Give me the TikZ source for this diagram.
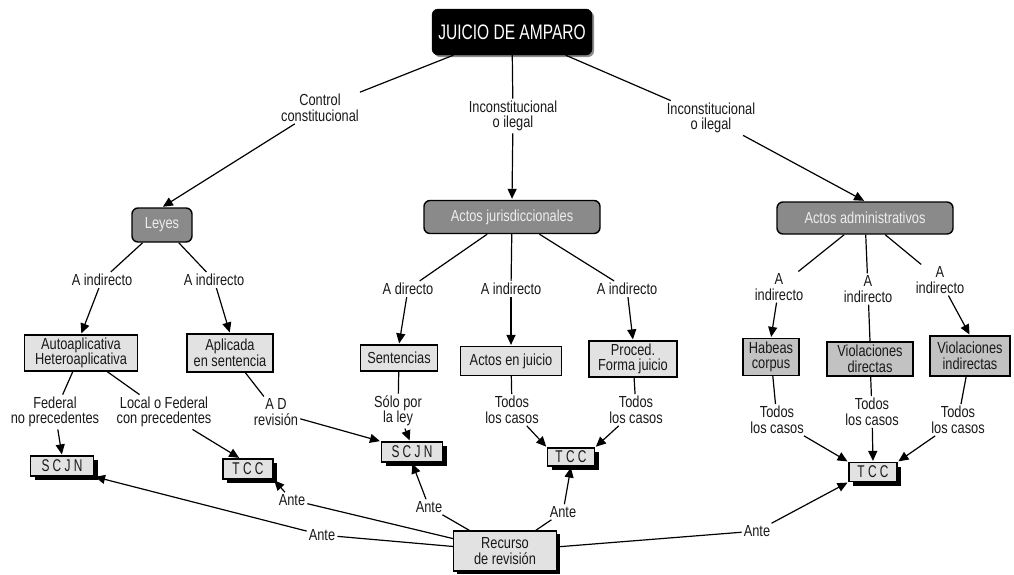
\documentclass[tikz,border=0pt]{standalone}
\usepackage{fontspec}
\setmainfont{Liberation Sans}[FakeStretch=0.8]
\newfontfamily\titlefont{Liberation Sans}[FakeStretch=0.74]
\newfontfamily\courtfont{Liberation Sans}[FakeStretch=0.7]
\usetikzlibrary{arrows.meta,shadows}

\definecolor{groupfill}{RGB}{138,138,138}
\definecolor{leaffill}{RGB}{226,226,226}
\definecolor{casefill}{RGB}{194,194,194}
\definecolor{ink}{RGB}{25,25,25}

\tikzset{
  txt/.style={font=\fontsize{16}{15.5}\selectfont, align=center, inner sep=2pt, text=ink},
  topbox/.style={fill=black, draw=black, rounded corners=6pt, text=white,
    font=\titlefont\fontsize{21}{22}\selectfont, minimum width=160pt, minimum height=46pt,
    inner sep=2pt,
    drop shadow={shadow xshift=2pt, shadow yshift=-2pt, fill=black!45, opacity=1}},
  groupbox/.style={txt, fill=groupfill, draw=black, line width=1.4pt, rounded corners=6pt,
    text=white!93!black, minimum height=33pt},
  leafbox/.style={txt, fill=leaffill, draw=black, line width=1.2pt},
  casebox/.style={txt, fill=casefill, draw=black, line width=1.2pt},
  courtbox/.style={fill=leaffill, draw=black, line width=1.2pt, inner sep=2pt, text=ink,
    font=\courtfont\fontsize{17}{17}\selectfont, minimum height=20pt,
    drop shadow={shadow xshift=4pt, shadow yshift=-4pt, fill=black, opacity=1}},
  linklabel/.style={txt},
  conn/.style={draw=black, line width=1.2pt},
  arr/.style={conn, -{Triangle[length=10pt,width=9pt]}, shorten >=1pt},
}

\begin{document}
\begin{tikzpicture}[x=1pt,y=-1pt]
\useasboundingbox (0,0) rectangle (1014,574);

% main concept
\node[topbox] (juicio) at (512,32) {JUICIO DE AMPARO};

% first level linking phrases
\node[linklabel] (lcontrol) at (320,108) {Control\\constitucional};
\node[linklabel] (lin1) at (513,116) {Inconstitucional\\o ilegal};
\node[linklabel] (lin2) at (711,118) {Inconstitucional\\o ilegal};

% groups
\node[groupbox, minimum width=60pt, minimum height=34pt] (leyes) at (162,225) {Leyes};
\node[groupbox, minimum width=176pt] (juris) at (512,217) {Actos jurisdiccionales};
\node[groupbox, minimum width=176pt, minimum height=32pt] (admin) at (865,218) {Actos administrativos};

% second level linking phrases
\node[linklabel] (la1) at (102,280) {A indirecto};
\node[linklabel] (la2) at (214,280) {A indirecto};
\node[linklabel] (ld) at (408,289) {A directo};
\node[linklabel] (lb) at (511,289) {A indirecto};
\node[linklabel] (lc) at (627,289) {A indirecto};
\node[linklabel] (lr1) at (779,287) {A\\indirecto};
\node[linklabel] (lr2) at (868,289) {A\\indirecto};
\node[linklabel] (lr3) at (940,280) {A\\indirecto};

% leaf concepts
\node[leafbox, minimum width=113pt, minimum height=36pt] (auto) at (81,353) {Autoaplicativa\\Heteroaplicativa};
\node[leafbox, minimum width=86pt, minimum height=38pt] (aplic) at (230,353) {Aplicada\\en sentencia};
\node[leafbox, minimum width=77pt, minimum height=26pt] (sent) at (399,358) {Sentencias};
\node[leafbox, minimum width=101pt, minimum height=29pt] (enjuicio) at (511,361) {Actos en juicio};
\node[leafbox, minimum width=88pt, minimum height=36pt] (proced) at (633,359) {Proced.\\Forma juicio};
\node[casebox, minimum width=56pt, minimum height=37pt] (habeas) at (771,357) {Habeas\\corpus};
\node[casebox, minimum width=86pt, minimum height=34pt] (vdir) at (870,359) {Violaciones\\directas};
\node[casebox, minimum width=80pt, minimum height=40pt] (vind) at (970,356) {Violaciones\\indirectas};

% third level linking phrases
\node[linklabel] (lfed) at (55,412) {Federal\\no precedentes};
\node[linklabel] (lloc) at (164,412) {Local o Federal\\con precedentes};
\node[linklabel] (lad) at (276,412) {A D\\revisión};
\node[linklabel] (lsolo) at (398,411) {Sólo por\\la ley};
\node[linklabel] (ltod1) at (512,410) {Todos\\los casos};
\node[linklabel] (ltod2) at (636,410) {Todos\\los casos};
\node[linklabel] (ltod3) at (777,420) {Todos\\los casos};
\node[linklabel] (ltod4) at (872,412) {Todos\\los casos};
\node[linklabel] (ltod5) at (958,420) {Todos\\los casos};

% courts
\node[courtbox, minimum width=63pt] (scjn1) at (62,466) {S C J N};
\node[courtbox, minimum width=50pt] (tcc1) at (248,469) {T C C};
\node[courtbox, minimum width=61pt] (scjn2) at (412,452) {S C J N};
\node[courtbox, minimum width=47pt, minimum height=18pt] (tcc2) at (571,457) {T C C};
\node[courtbox, minimum width=48pt, minimum height=19pt] (tcc3) at (873,472) {T C C};

% review
\node[leafbox, minimum width=103pt, minimum height=40pt,
  drop shadow={shadow xshift=3pt, shadow yshift=-3pt, fill=black, opacity=1}] (recurso) at (505,551) {Recurso\\de revisión};
\node[linklabel] (ante1) at (292,500) {Ante};
\node[linklabel] (ante2) at (322,535) {Ante};
\node[linklabel] (ante3) at (429,507) {Ante};
\node[linklabel] (ante4) at (563,512) {Ante};
\node[linklabel] (ante5) at (757,531) {Ante};

% connectors: first level
\draw[conn] (juicio) -- (lcontrol);
\draw[arr] (lcontrol) -- (leyes.north);
\draw[conn] (juicio) -- (lin1);
\draw[arr] (lin1) -- (juris.north);
\draw[conn] (juicio) -- (lin2);
\draw[arr] (lin2) -- (admin.north);

% connectors: laws
\draw[conn] (leyes) -- (la1);
\draw[arr] (la1) -- (auto.north);
\draw[conn] (leyes) -- (la2);
\draw[arr] (la2) -- (aplic.north);
\draw[conn] (auto) -- (lfed);
\draw[arr] (lfed) -- (scjn1.north);
\draw[conn] (auto) -- (lloc);
\draw[arr] (lloc) -- ([xshift=-8pt]tcc1.north);
\draw[conn] (aplic) -- (lad);
\draw[arr] (lad) -- (scjn2.north west);

% connectors: jurisdictional acts
\draw[conn] (juris) -- (ld);
\draw[arr] (ld) -- (sent.north);
\draw[conn] (juris) -- (lb);
\draw[arr] (lb) -- (enjuicio.north);
\draw[conn] (juris) -- (lc);
\draw[arr] (lc) -- (proced.north);
\draw[conn] (sent) -- (lsolo);
\draw[arr] (lsolo) -- ([xshift=-2pt]scjn2.north);
\draw[conn] (enjuicio) -- (ltod1);
\draw[arr] (ltod1) -- (tcc2.north west);
\draw[conn] (proced) -- (ltod2);
\draw[arr] (ltod2) -- (tcc2.north east);

% connectors: administrative acts
\draw[conn] (admin) -- (lr1);
\draw[arr] (lr1) -- (habeas.north);
\draw[conn] (admin) -- (lr2);
\draw[conn] (lr2) -- (vdir.north);
\draw[conn] (admin) -- (lr3);
\draw[arr] (lr3) -- (vind.north);
\draw[conn] (habeas) -- (ltod3);
\draw[arr] (ltod3) -- (tcc3.north west);
\draw[conn] (vdir) -- (ltod4);
\draw[arr] (ltod4) -- (tcc3.north);
\draw[conn] (vind) -- (ltod5);
\draw[arr] (ltod5) -- (tcc3.north east);

% connectors: review
\draw[conn] (recurso) -- (ante1);
\draw[arr] (ante1) -- (tcc1.south east);
\draw[conn] (recurso) -- (ante2);
\draw[arr] (ante2) -- (scjn1.south east);
\draw[conn] (recurso) -- (ante3);
\draw[arr] (ante3) -- (scjn2.south);
\draw[conn] (recurso) -- (ante4);
\draw[arr] (ante4) -- (tcc2.south);
\draw[conn] (recurso) -- (ante5);
\draw[arr] (ante5) -- (tcc3.south west);
\end{tikzpicture}
\end{document}
